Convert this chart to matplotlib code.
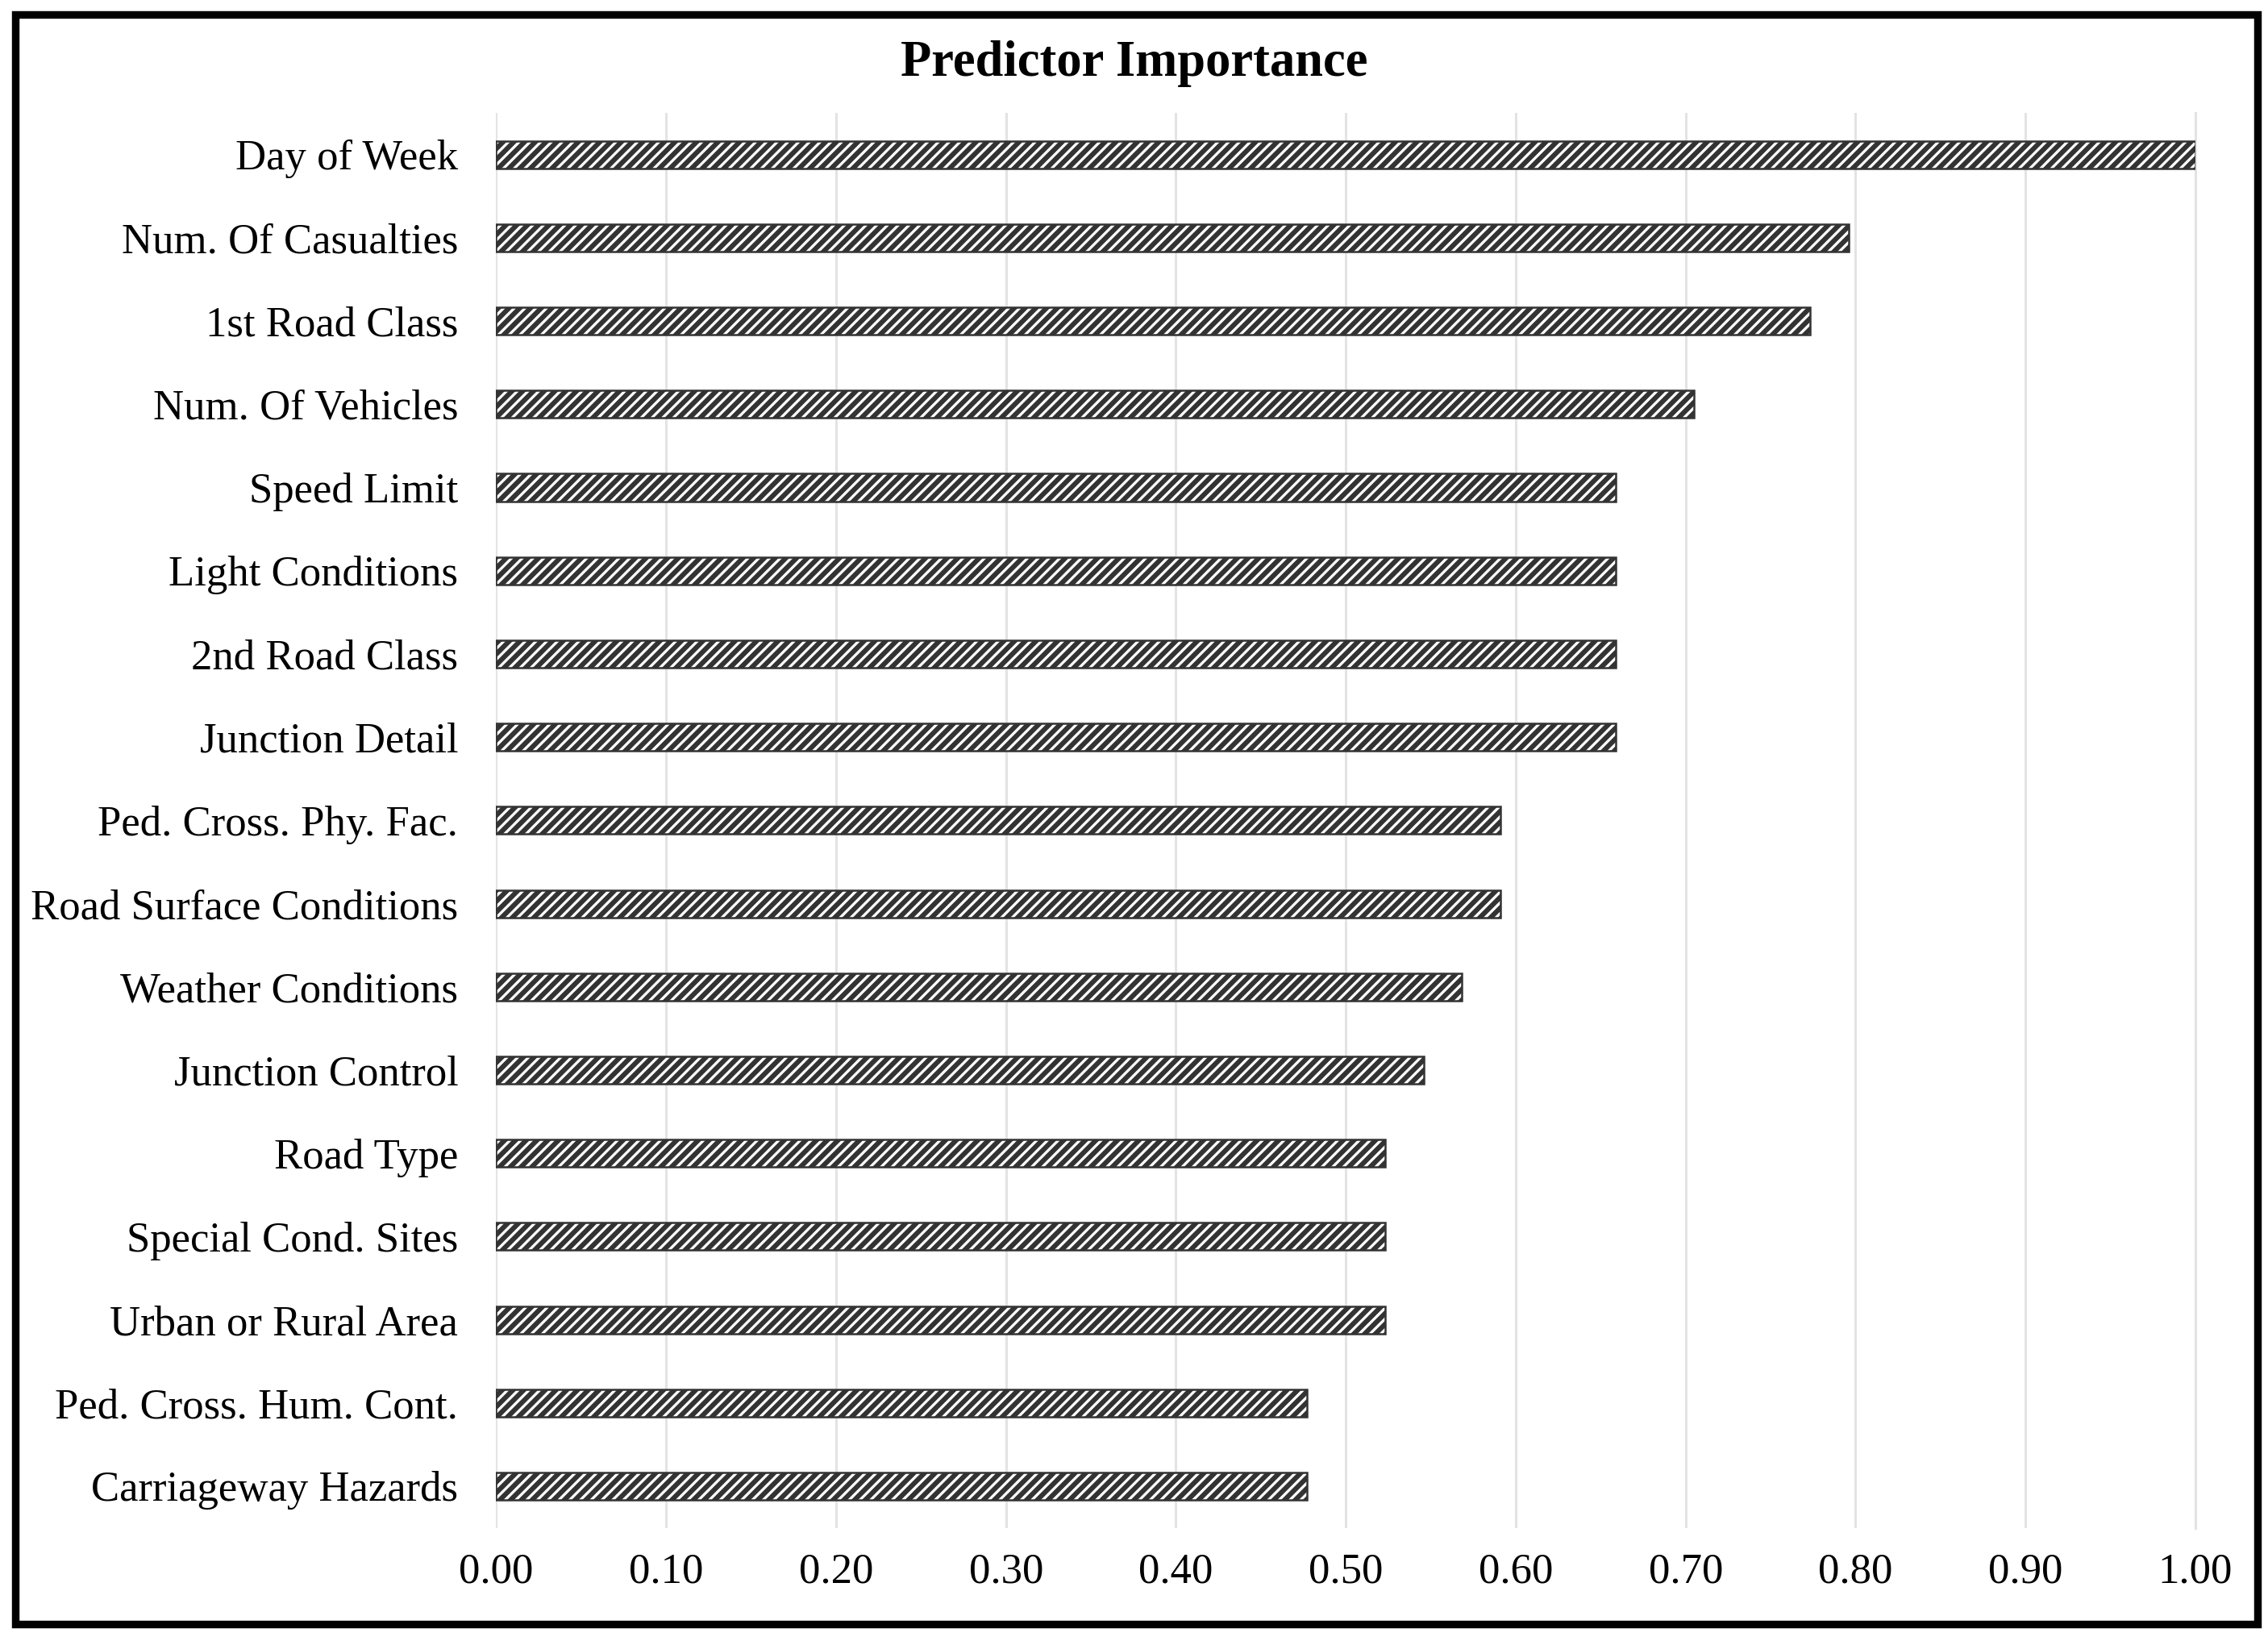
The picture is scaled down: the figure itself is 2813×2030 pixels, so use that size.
import matplotlib.pyplot as plt
from matplotlib.patches import Rectangle

predictors = [
    'Day of Week', 'Num. Of Casualties', '1st Road Class', 'Num. Of Vehicles',
    'Speed Limit', 'Light Conditions', '2nd Road Class', 'Junction Detail',
    'Ped. Cross. Phy. Fac.', 'Road Surface Conditions', 'Weather Conditions',
    'Junction Control', 'Road Type', 'Special Cond. Sites', 'Urban or Rural Area',
    'Ped. Cross. Hum. Cont.', 'Carriageway Hazards',
]
importance = [1.00, 0.796, 0.773, 0.705, 0.659, 0.659, 0.659, 0.659,
              0.591, 0.591, 0.568, 0.546, 0.523, 0.523, 0.523, 0.477, 0.477]
xticks = [0.0, 0.1, 0.2, 0.3, 0.4, 0.5, 0.6, 0.7, 0.8, 0.9, 1.0]

plt.rcParams['font.family'] = ['Liberation Serif', 'DejaVu Serif']
plt.rcParams['hatch.linewidth'] = 2.2
plt.rcParams['hatch.color'] = 'black'

fig = plt.figure(figsize=(14.065, 10.15), dpi=200)
ax = fig.add_axes([0.2188, 0.0667, 0.7492, 0.8643])

ypos = list(range(len(predictors)))
ax.barh(ypos, importance, height=0.33, color='white', edgecolor='#333333',
        linewidth=0.9, hatch='/////', zorder=3)

ax.set_ylim(len(predictors) - 0.5, -0.5)
ax.set_xlim(0, 1.0)
ax.set_yticks(ypos)
ax.set_yticklabels(predictors, fontsize=19)
ax.set_xticks(xticks)
ax.set_xticklabels([f'{t:.2f}' for t in xticks], fontsize=19)
ax.tick_params(axis='both', length=0)
ax.tick_params(axis='y', pad=17)
ax.tick_params(axis='x', pad=11)
ax.grid(axis='x', color='#e3e3e3', linewidth=1.1, zorder=0)
for s in ax.spines.values():
    s.set_visible(False)
ax.xaxis.get_gridlines()[-1].set_clip_on(False)

fig.text(0.5, 0.961, 'Predictor Importance', ha='center', va='center',
         fontsize=22.5, fontweight='bold')

# outer frame around the whole chart
fig.patches.append(Rectangle((0.0066, 0.008), 0.9888, 0.983, transform=fig.transFigure,
                             fill=False, edgecolor='black', linewidth=3.4))

fig.savefig('out.png', dpi=200)
